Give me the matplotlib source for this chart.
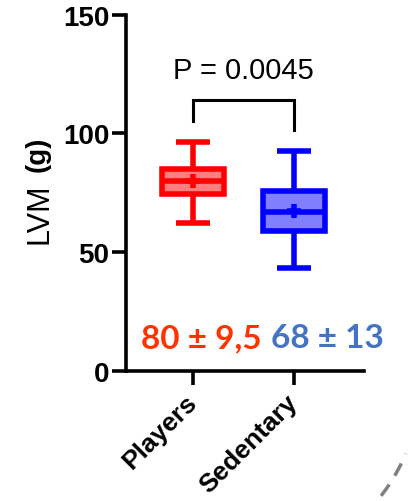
import matplotlib
matplotlib.use("Agg")
import matplotlib.pyplot as plt
from matplotlib.patches import Arc

# ---- data ----
groups = ["Players", "Sedentary"]
whisker_low = [62.3, 43.4]
q1 = [74.3, 59.0]
medians = [79.9, 67.0]
q3 = [84.9, 75.6]
whisker_high = [96.4, 92.7]
means = [80.0, 67.5]
summary_texts = ["80 ± 9,5", "68 ± 13"]
p_text = "P = 0.0045"
bracket_y = [105.4, 114.0, 114.0, 101.4]
yticks = [0, 50, 100, 150]

box_colors = ["#ff0000", "#0000ff"]
text_colors = ["#ff3300", "#4472c4"]

plt.rcParams['font.family'] = ['Liberation Sans', 'DejaVu Sans']

fig = plt.figure(figsize=(4.09, 5.02), dpi=100)
ax = fig.add_axes([126/409, 1-371.7/502, (364-126)/409, (371.7-15.7)/502])

xpos = list(range(len(groups)))
for i in xpos:
    stats = [dict(med=medians[i], q1=q1[i], q3=q3[i], whislo=whisker_low[i],
                  whishi=whisker_high[i], mean=means[i], fliers=[], label=groups[i])]
    c = box_colors[i]
    ax.bxp(stats, positions=[i], widths=0.61, capwidths=0.34, patch_artist=True,
           showmeans=True, showfliers=False,
           boxprops=dict(facecolor=c, edgecolor=c, linewidth=4.0),
           medianprops=dict(color=c, linewidth=4.0, solid_capstyle='butt'),
           whiskerprops=dict(color=c, linewidth=4.0, solid_capstyle='butt'),
           capprops=dict(color=c, linewidth=4.0, solid_capstyle='butt'),
           meanprops=dict(marker='+', markeredgecolor=c, markersize=10, markeredgewidth=4.0))
    for p in ax.patches[-1:]:
        p.set_facecolor(matplotlib.colors.to_rgba(c, 0.5))
        p.set_edgecolor(c)

ax.set_xlim(-0.663, 1.693)
ax.set_ylim(0, 150)
ax.set_yticks(yticks)
ax.set_xticks(xpos)
ax.set_xticklabels(groups, rotation=45, ha='right', va='center', rotation_mode='anchor',
                   fontsize=19, fontweight='bold')
for lab in ax.get_yticklabels():
    lab.set_fontsize(20)
    lab.set_fontweight('bold')

for s in ['top', 'right']:
    ax.spines[s].set_visible(False)
for s in ['left', 'bottom']:
    ax.spines[s].set_linewidth(2.6)
ax.tick_params(axis='both', length=10, width=2.6, pad=2)
ax.tick_params(axis='x', pad=10)

# bracket and p value
ax.plot([0, 0, 1, 1], bracket_y, color='black', lw=2.2, solid_joinstyle='miter')
ax.text(0.5, 126.7, p_text, ha='center', va='center', fontsize=21)

# summary texts
for i, (t, c) in enumerate(zip(summary_texts, text_colors)):
    xt = [0.08, 1.33][i]
    ax.text(xt, 10.0, t, ha='center', va='baseline', fontsize=24, fontweight='bold',
            color=c, family=['Lato', 'DejaVu Sans'])

# y label: regular "LVM" and bold "(g)"
fig.text(39/409, 1-214/502, "LVM", rotation=90, ha='center', va='center', fontsize=22)
fig.text(38/409, 1-154/502, "(g)", rotation=90, ha='center', va='center', fontsize=20,
         fontweight='bold')

# decorative dashed arc at bottom-right corner (display pixels)
arc = Arc((230, 122), 382, 382, theta1=-45, theta2=-23, transform=None,
          color='#808080', lw=2.5, ls=(0, (4, 3)))
fig.add_artist(arc)

fig.savefig("out.png", dpi=100)
